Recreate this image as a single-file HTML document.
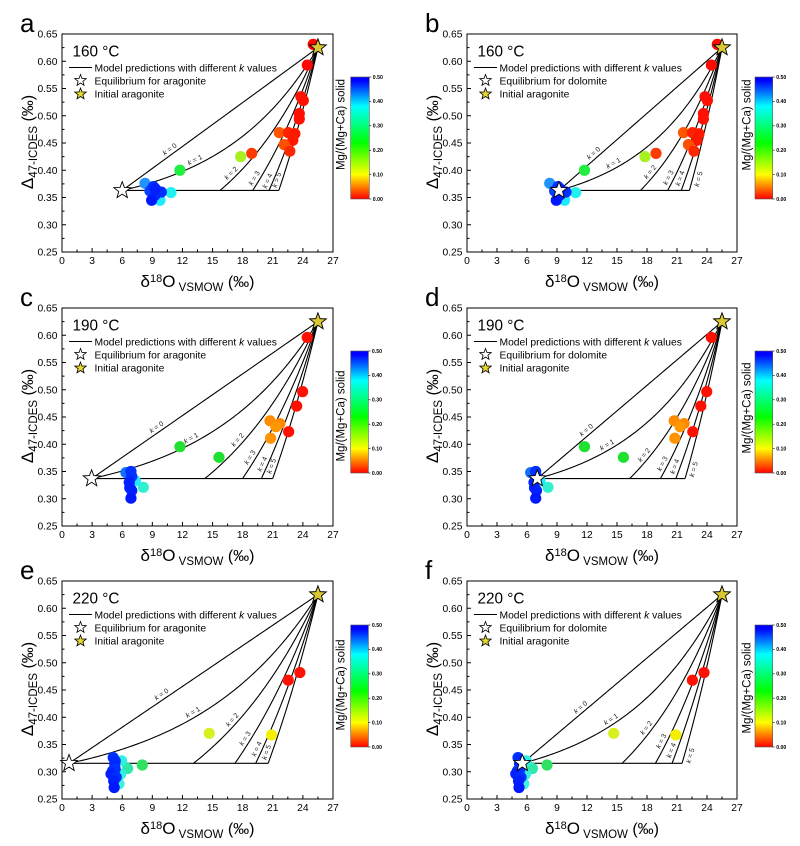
<!DOCTYPE html>
<html><head><meta charset="utf-8">
<style>
html,body{margin:0;padding:0;background:#fff;}
svg{display:block;font-family:"Liberation Sans",Arial,sans-serif;}
</style></head>
<body>
<svg id="s" width="800" height="846" viewBox="0 0 800 846" xmlns="http://www.w3.org/2000/svg"></svg>
<script>
(function(){
const f=n=>(Math.round(n*100)/100);
function star(cx,cy,R,fill,sw){let p=[];for(let i=0;i<10;i++){const r=i%2?R*0.42:R;const a=-Math.PI/2+i*Math.PI/5;p.push(f(cx+r*Math.cos(a))+','+f(cy+r*Math.sin(a)));}
return `<polygon points="${p.join(' ')}" fill="${fill}" stroke="#000" stroke-width="${sw||0.9}" stroke-linejoin="miter"/>`;}

const ptsAB=[
[25.03,0.631,'#ff0800'],[24.44,0.593,'#ff0800'],[23.8,0.535,'#ff1000'],[24.04,0.528,'#ff1000'],
[23.64,0.504,'#ff1000'],[23.64,0.494,'#ff1000'],[21.65,0.469,'#ff5500'],[22.54,0.469,'#ff2200'],
[23.2,0.467,'#ff1800'],[23.0,0.455,'#ff1800'],[22.14,0.447,'#ff5000'],[22.7,0.435,'#ff2800'],
[18.9,0.431,'#ff3a00'],[17.8,0.425,'#a8f020'],[11.75,0.400,'#20ee40'],[10.86,0.359,'#20f0f0'],
[9.76,0.345,'#20e8ff'],[8.27,0.376,'#2094ff'],[8.76,0.362,'#0840ff'],[9.1,0.370,'#0030ff'],
[9.6,0.361,'#0028ff'],[9.9,0.360,'#0030ff'],[9.26,0.354,'#0028ff'],[8.93,0.345,'#0018ff'],[9.3,0.366,'#0020ff']];
const ptsCD=[
[24.43,0.596,'#ff1000'],[23.97,0.4965,'#ff1000'],[23.38,0.470,'#ff1000'],[22.58,0.423,'#ff1000'],
[20.72,0.443,'#ff8c00'],[21.71,0.438,'#ff8800'],[21.31,0.432,'#ff9800'],[20.78,0.411,'#ff9400'],
[11.75,0.3955,'#20e030'],[15.64,0.376,'#20e030'],[8.1,0.321,'#30f0d0'],[7.3,0.333,'#20e8ff'],
[6.37,0.348,'#1070ff'],[6.87,0.350,'#0030ff'],[6.95,0.341,'#0030ff'],[6.7,0.330,'#0020ff'],
[6.75,0.320,'#0020ff'],[6.95,0.315,'#0020ff'],[6.87,0.301,'#0018ff']];
const ptsEF=[
[22.54,0.468,'#ff1000'],[23.7,0.482,'#ff1000'],[14.67,0.3705,'#d8f020'],[20.88,0.3675,'#f4f000'],
[8.0,0.3124,'#30e060'],[6.54,0.306,'#30e8a8'],[5.94,0.32,'#30f0e0'],[5.84,0.2953,'#30f0e0'],
[5.68,0.278,'#40f0e0'],[5.1,0.326,'#0030ff'],[5.3,0.32,'#0028ff'],[5.25,0.315,'#0028ff'],
[5.3,0.305,'#0030ff'],[5.05,0.302,'#0030ff'],[4.88,0.296,'#0020ff'],[5.4,0.29,'#0030ff'],
[5.15,0.283,'#0020ff'],[5.2,0.271,'#0018ff']];

const panels=[
{L:'a',px:62,pw:271,py:34,ph:218,T:'160 °C',E:'aragonite',eq:[6.0,0.363],pts:ptsAB,cb:[350.7,77,18.6,122],tt:[340.7,124.5],kh:[13,9,7,8],k0u:0.26,k1u:0.38,k5r:false},
{L:'b',px:467,pw:270,py:34,ph:218,T:'160 °C',E:'dolomite',eq:[9.2,0.363],pts:ptsAB,cb:[755,77,17.7,122],tt:[746.7,125],kh:[15,10,10,12],k0u:0.23,k1u:0.35,k5r:true},
{L:'c',px:62,pw:271,py:308,ph:218,T:'190 °C',E:'aragonite',eq:[2.95,0.337],pts:ptsCD,cb:[350.7,351,17.7,122],tt:[340.7,416],kh:[35,18,12,10],k0u:0.30,k1u:0.45,k5r:false},
{L:'d',px:467,pw:270,py:308,ph:218,T:'190 °C',E:'dolomite',eq:[7.03,0.337],pts:ptsCD,cb:[755,351,17.7,122],tt:[746.7,408],kh:[20,12,10,10],k0u:0.28,k1u:0.39,k5r:true},
{L:'e',px:62,pw:271,py:581,ph:218,T:'220 °C',E:'aragonite',eq:[0.7,0.3155],pts:ptsEF,cb:[350.7,625,17.7,122],tt:[340.7,685],kh:[39,21,12,9],k0u:0.385,k1u:0.51,k5r:false},
{L:'f',px:467,pw:270,py:581,ph:218,T:'220 °C',E:'dolomite',eq:[5.53,0.3155],pts:ptsEF,cb:[755,625,17.7,122],tt:[746.7,688],kh:[32,19,11,9],k0u:0.31,k1u:0.46,k5r:true}
];

let h='<defs><linearGradient id="cbg" x1="0" y1="1" x2="0" y2="0"><stop offset="0" stop-color="#ff0000"/><stop offset="0.2" stop-color="#ffff00"/><stop offset="0.46" stop-color="#00ff00"/><stop offset="0.76" stop-color="#00ffff"/><stop offset="0.97" stop-color="#0000ff"/><stop offset="1" stop-color="#0000ff"/></linearGradient></defs>';
h+='<rect width="800" height="846" fill="#fff"/>';

panels.forEach(P=>{
 const X=x=>P.px+x/27*P.pw, Y=y=>P.py+(0.65-y)/0.4*P.ph;
 const x0=25.5,y0=0.625,xe=P.eq[0],ye=P.eq[1];
 const N=120;
 const curves=[];
 for(let k=0;k<=5;k++){
  const xend=k<=1?xe:x0-(x0-xe)/k;
  const pts=[];
  for(let i=0;i<=N;i++){const u=i/N;const x=xend+(x0-xend)*u;let v;
   if(k==0)v=u;else{const a=2/k;v=(Math.exp(a*u)-1)/(Math.exp(a)-1);}
   pts.push([X(x),Y(ye+(y0-ye)*v)]);}
  curves.push(pts);
  h+=`<polyline points="${pts.map(p=>f(p[0])+','+f(p[1])).join(' ')}" fill="none" stroke="#000" stroke-width="1.1"/>`;
 }
 const x5=x0-(x0-xe)/5;
 h+=`<line x1="${f(X(xe))}" y1="${f(Y(ye))}" x2="${f(X(x5))}" y2="${f(Y(ye))}" stroke="#000" stroke-width="1.1"/>`;
 for(let k=0;k<=5;k++){
  const pts=curves[k];let idx;
  if(k==0)idx=Math.round(P.k0u*N);else if(k==1)idx=Math.round(P.k1u*N);
  else{const yl=Y(ye)-P.kh[k-2];idx=pts.findIndex(p=>p[1]<=yl);if(idx<0)idx=5;}
  const p=pts[idx],q=pts[Math.min(idx+3,N)],r=pts[Math.max(idx-3,0)];
  let dx=q[0]-r[0],dy=q[1]-r[1];const Ln=Math.hypot(dx,dy);dx/=Ln;dy/=Ln;
  const off=5.5*((k==5&&P.k5r)?-1:1);
  const cx=p[0]+dy*off,cy=p[1]-dx*off;
  const ang=Math.atan2(dy,dx)*180/Math.PI;
  h+=`<text transform="translate(${f(cx)},${f(cy)}) rotate(${f(ang)})" text-anchor="middle" dy="2.5" font-size="7" fill="#222"><tspan font-style="italic">k</tspan> = ${k}</text>`;
 }
 // dots
 P.pts.forEach(d=>{h+=`<circle cx="${f(X(d[0]))}" cy="${f(Y(d[1]))}" r="5.6" fill="${d[2]}"/>`;});
 // frame
 h+=`<rect x="${P.px}" y="${P.py}" width="${P.pw}" height="${P.ph}" fill="none" stroke="#000" stroke-width="1"/>`;
 // y ticks
 for(let i=0;i<=8;i++){const y=0.25+i*0.05;const yy=f(Y(y));
  h+=`<line x1="${P.px}" y1="${yy}" x2="${P.px+4}" y2="${yy}" stroke="#000" stroke-width="1"/>`;
  h+=`<text x="${P.px-4.5}" y="${f(Y(y)+3.6)}" text-anchor="end" font-size="10.3">${y.toFixed(2)}</text>`;
  if(i<8){const ym=f(Y(y+0.025));h+=`<line x1="${P.px}" y1="${ym}" x2="${P.px+2.5}" y2="${ym}" stroke="#000" stroke-width="1"/>`;}
 }
 // x ticks
 const yb=P.py+P.ph;
 for(let i=0;i<=9;i++){const x=i*3;const xx=f(X(x));
  h+=`<line x1="${xx}" y1="${yb}" x2="${xx}" y2="${yb-4}" stroke="#000" stroke-width="1"/>`;
  h+=`<text x="${xx}" y="${yb+12}" text-anchor="middle" font-size="10.3">${x}</text>`;
  if(i<9){const xm=f(X(x+1.5));h+=`<line x1="${xm}" y1="${yb}" x2="${xm}" y2="${yb-2.5}" stroke="#000" stroke-width="1"/>`;}
 }
 // stars
 h+=star(X(xe),Y(ye),8.8,'#ffffff');
 h+=star(X(x0),Y(y0),8.8,'#d8c832');
 // axis labels
 h+=`<text transform="translate(${P.px-29},${P.py+P.ph/2-1}) rotate(-90)" text-anchor="middle" font-size="17">Δ<tspan font-size="11.5" dy="4">47-ICDES</tspan><tspan font-size="16" dy="-4"> (‰)</tspan></text>`;
 h+=`<text x="${P.px+P.pw/2}" y="${P.py+P.ph+35}" text-anchor="middle" font-size="17">δ<tspan font-size="11" dy="-5">18</tspan><tspan dy="5">O</tspan><tspan font-size="11.5" dy="4"> VSMOW</tspan><tspan font-size="16" dy="-4"> (‰)</tspan></text>`;
 // panel letter
 h+=`<text x="${P.px-42}" y="${P.py-2}" font-size="26">${P.L}</text>`;
 // legend
 h+=`<text x="${P.px+10.5}" y="${P.py+22.5}" font-size="15.3">${P.T}</text>`;
 h+=`<line x1="${P.px+7}" y1="${P.py+33.5}" x2="${P.px+30}" y2="${P.py+33.5}" stroke="#000" stroke-width="1.1"/>`;
 h+=`<text x="${P.px+32.5}" y="${P.py+37.7}" font-size="10.3">Model predictions with different <tspan font-style="italic">k</tspan> values</text>`;
 h+=star(P.px+18.5,P.py+46.5,6,'#ffffff',0.8);
 h+=`<text x="${P.px+32.5}" y="${P.py+50.5}" font-size="10.3">Equilibrium for ${P.E}</text>`;
 h+=star(P.px+18.5,P.py+60,6,'#e8d830',0.8);
 h+=`<text x="${P.px+32.5}" y="${P.py+63.7}" font-size="10.3">Initial aragonite</text>`;
 // colorbar
 const [cx,cy,cw,ch]=P.cb;
 h+=`<rect x="${cx}" y="${cy}" width="${cw}" height="${ch}" fill="url(#cbg)" stroke="#555" stroke-width="0.6"/>`;
 for(let i=0;i<=5;i++){const v=i*0.1;const yy=f(cy+ch-v/0.5*ch);
  h+=`<line x1="${f(cx+cw)}" y1="${yy}" x2="${f(cx+cw+2)}" y2="${yy}" stroke="#000" stroke-width="0.6"/>`;
  h+=`<text x="${f(cx+cw+3.5)}" y="${f(yy+1.8)}" font-size="5.2" font-weight="bold">${v.toFixed(2)}</text>`;}
 h+=`<text transform="translate(${P.tt[0]},${P.tt[1]}) rotate(-90)" text-anchor="middle" dy="4" font-size="11.5">Mg/(Mg+Ca) solid</text>`;
});
document.getElementById('s').innerHTML=h;
})();
</script>
</body></html>
